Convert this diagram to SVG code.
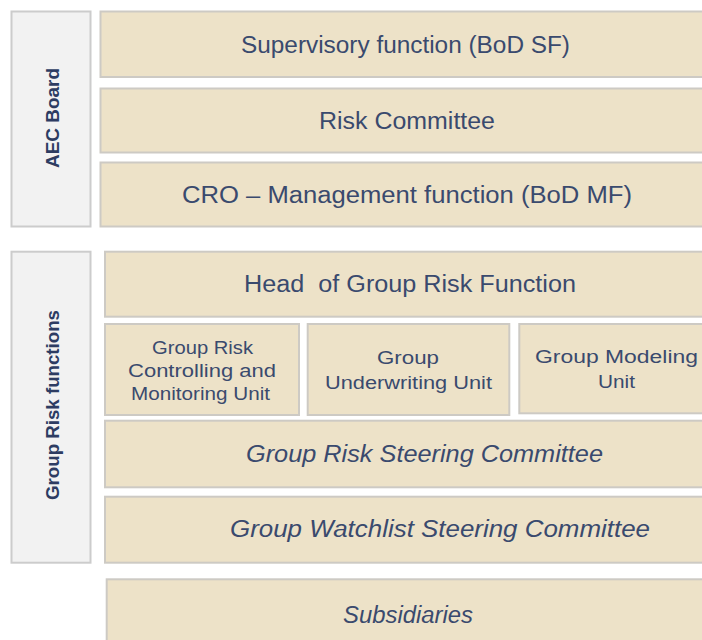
<svg xmlns="http://www.w3.org/2000/svg" width="702" height="640" viewBox="0 0 702 640">
<style>
.box{fill:#ede2c8;stroke:#cdcac4;stroke-width:2}
.side{fill:#f2f2f2;stroke:#cccccc;stroke-width:2}
.t{font-family:"Liberation Sans",Arial,sans-serif;fill:#3a4a6e;text-anchor:middle}
.big{font-size:23px}
.sm{font-size:17.5px}
.it{font-style:italic;font-size:23px}
.lab{font-family:"Liberation Sans",Arial,sans-serif;font-weight:bold;font-size:18px;fill:#2d3c62;text-anchor:middle}
</style>
<rect width="702" height="640" fill="#ffffff"/>
<g id="aec-board">
<rect class="side" x="11.5" y="11.5" width="79" height="215"/>
<text class="lab" transform="translate(58.5,118) rotate(-90)" textLength="100" lengthAdjust="spacingAndGlyphs">AEC Board</text>
</g>
<g id="supervisory">
<rect class="box" x="100.5" y="11.5" width="610" height="65.5"/>
<text class="t big" x="405.5" y="52.5" textLength="329" lengthAdjust="spacingAndGlyphs">Supervisory function (BoD SF)</text>
</g>
<g id="risk-committee">
<rect class="box" x="100.5" y="88.5" width="610" height="64"/>
<text class="t big" x="407" y="128.5" textLength="176" lengthAdjust="spacingAndGlyphs">Risk Committee</text>
</g>
<g id="cro">
<rect class="box" x="100.5" y="162.5" width="610" height="64"/>
<text class="t big" x="407" y="203" textLength="450" lengthAdjust="spacingAndGlyphs">CRO – Management function (BoD MF)</text>
</g>
<g id="group-risk-functions">
<rect class="side" x="11.5" y="251.7" width="79" height="311"/>
<text class="lab" transform="translate(58.5,405) rotate(-90)" textLength="190" lengthAdjust="spacingAndGlyphs">Group Risk functions</text>
</g>
<g id="head-group-risk">
<rect class="box" x="105" y="251.7" width="605" height="65"/>
<text class="t big" x="410" y="292" textLength="332" lengthAdjust="spacingAndGlyphs" xml:space="preserve">Head  of Group Risk Function</text>
</g>
<g id="controlling-unit">
<rect class="box" x="105" y="324" width="194" height="91"/>
<text class="t sm" x="202.5" y="354" textLength="101" lengthAdjust="spacingAndGlyphs">Group Risk</text>
<text class="t sm" x="202" y="377" textLength="148" lengthAdjust="spacingAndGlyphs">Controlling and</text>
<text class="t sm" x="200.5" y="400" textLength="139" lengthAdjust="spacingAndGlyphs">Monitoring Unit</text>
</g>
<g id="underwriting-unit">
<rect class="box" x="307.7" y="324" width="201.6" height="91"/>
<text class="t sm" x="408" y="364" textLength="62" lengthAdjust="spacingAndGlyphs">Group</text>
<text class="t sm" x="408.5" y="388.5" textLength="167" lengthAdjust="spacingAndGlyphs">Underwriting Unit</text>
</g>
<g id="modeling-unit">
<rect class="box" x="519.3" y="324" width="190" height="89.3"/>
<text class="t sm" x="616.5" y="363" textLength="163" lengthAdjust="spacingAndGlyphs">Group Modeling</text>
<text class="t sm" x="616.5" y="387.5" textLength="37" lengthAdjust="spacingAndGlyphs">Unit</text>
</g>
<g id="steering-committee">
<rect class="box" x="105" y="420.7" width="605" height="66.6"/>
<text class="t it" x="424.5" y="461.5" textLength="357" lengthAdjust="spacingAndGlyphs">Group Risk Steering Committee</text>
</g>
<g id="watchlist-committee">
<rect class="box" x="105" y="496.7" width="605" height="66"/>
<text class="t it" x="440" y="536.5" textLength="420" lengthAdjust="spacingAndGlyphs">Group Watchlist Steering Committee</text>
</g>
<g id="subsidiaries">
<rect class="box" x="106.7" y="579.3" width="605" height="70"/>
<text class="t it" x="408" y="622.5" textLength="130" lengthAdjust="spacingAndGlyphs">Subsidiaries</text>
</g>
<g id="connectors"></g>
</svg>
